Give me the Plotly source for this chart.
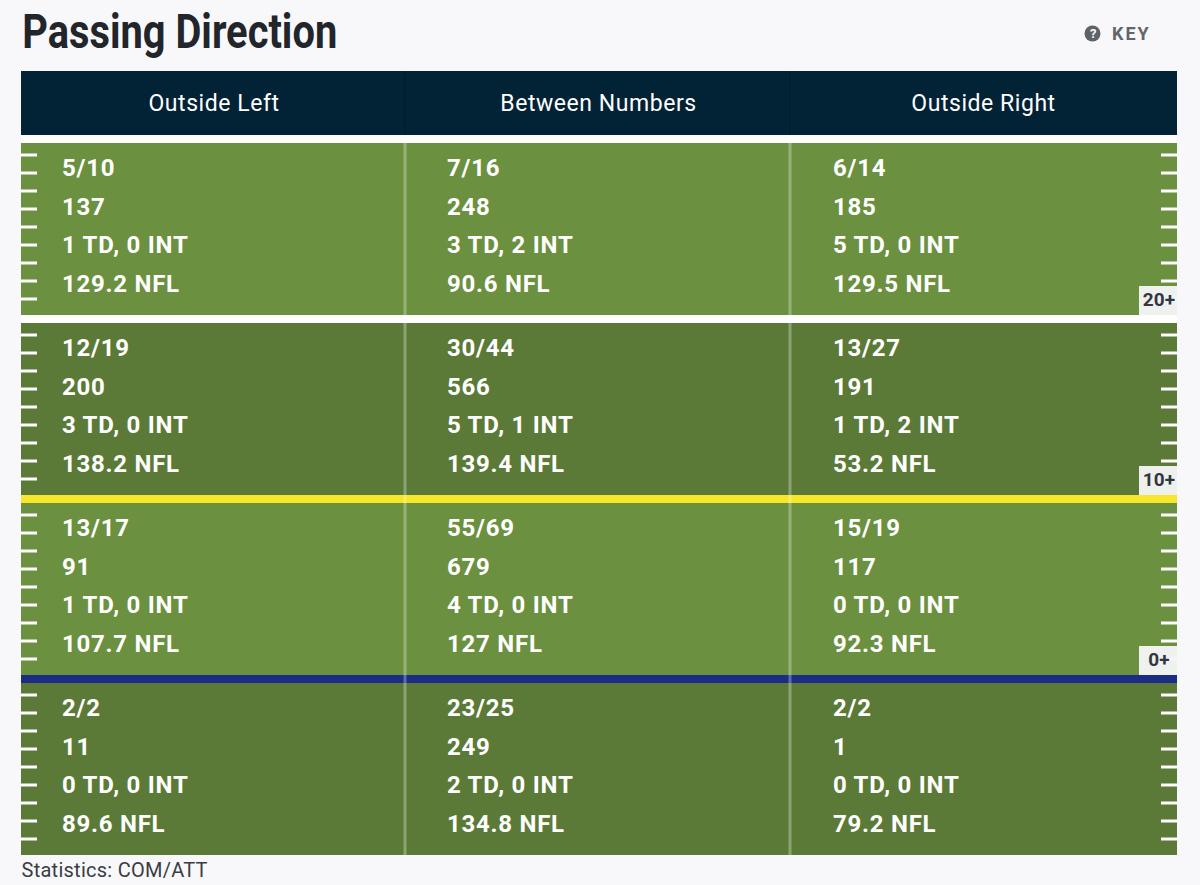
import plotly.graph_objects as go

# ── data ──
columns = ["Outside Left", "Between Numbers", "Outside Right"]
depths = ["20+", "10+", "0+"]

comp_att = [
    ["5/10", "7/16", "6/14"],
    ["12/19", "30/44", "13/27"],
    ["13/17", "55/69", "15/19"],
    ["2/2", "23/25", "2/2"],
]
yards = [
    [137, 248, 185],
    [200, 566, 191],
    [91, 679, 117],
    [11, 249, 1],
]
touchdowns = [
    [1, 3, 5],
    [3, 5, 1],
    [1, 4, 0],
    [0, 2, 0],
]
interceptions = [
    [0, 2, 0],
    [0, 1, 2],
    [0, 0, 0],
    [0, 0, 0],
]
ratings = [
    [129.2, 90.6, 129.5],
    [138.2, 139.4, 53.2],
    [107.7, 127, 92.3],
    [89.6, 134.8, 79.2],
]

# ── layout (page pixels) ──
W, H = 1200, 885
LEFT, RIGHT = 21, 1177
COL_EDGES = [21, 405, 790, 1177]
COL_TEXT_X = [62, 447, 833]
ROW_TOPS = [143, 323, 503, 683]
ROW_H = 172
LINE_OFFSETS = [27, 66, 104, 143]

BG = "#f8f8fb"
NAVY = "#022235"
LIGHT = "#6b9040"
DARK = "#5c7a37"
ROW_COLORS = [LIGHT, DARK, LIGHT, DARK]
BAND_COLORS = ["#ffffff", "#f7e62a", "#1b2c84"]

shapes = []


def rect(x0, y0, x1, y1, color):
    shapes.append(dict(type="rect", xref="x", yref="y", x0=x0, y0=y0, x1=x1, y1=y1,
                       fillcolor=color, line=dict(width=0), layer="below"))


# header
rect(LEFT, 71, RIGHT, 135, NAVY)
for cx in COL_EDGES[1:3]:
    rect(cx - 1, 71, cx + 1, 135, "#011d2e")

# field rows + coloured bands between them
for i, top in enumerate(ROW_TOPS):
    rect(LEFT, top, RIGHT, top + ROW_H, ROW_COLORS[i])
    if i < 3:
        rect(LEFT, top + ROW_H, RIGHT, top + ROW_H + 8, BAND_COLORS[i])
rect(LEFT, 135, RIGHT, 143, "#ffffff")

# column dividers
for cx in COL_EDGES[1:3]:
    rect(cx - 1.5, 143, cx + 1.5, 855, "rgba(255,255,255,0.3)")

# yard hash marks
for top in ROW_TOPS:
    for k in range(9):
        y = top + 12 + 18 * k
        rect(LEFT, y - 1.5, LEFT + 16, y + 1.5, "#ffffff")
        rect(RIGHT - 16, y - 1.5, RIGHT, y + 1.5, "#ffffff")

# depth badges
for i in range(3):
    bottom = ROW_TOPS[i] + ROW_H
    rect(1139, bottom - 29, RIGHT, bottom, "rgba(246,247,248,0.95)")

# key icon
shapes.append(dict(type="circle", xref="x", yref="y", x0=1084.5, y0=25.5, x1=1100.5, y1=41.5,
                   fillcolor="#5f6368", line=dict(width=0), layer="below"))

fig = go.Figure()

# cell text
cell_x, cell_y, cell_text = [], [], []
for r, top in enumerate(ROW_TOPS):
    for c, tx in enumerate(COL_TEXT_X):
        lines = [
            comp_att[r][c],
            str(yards[r][c]),
            f"{touchdowns[r][c]} TD, {interceptions[r][c]} INT",
            f"{ratings[r][c]:g} NFL",
        ]
        for off, line in zip(LINE_OFFSETS, lines):
            cell_x.append(tx)
            cell_y.append(top + off)
            cell_text.append(line)

fig.add_trace(go.Scatter(
    x=cell_x, y=cell_y, text=cell_text, mode="text", textposition="middle right",
    textfont=dict(family="Roboto", size=24, color="#ffffff", weight=700),
    hoverinfo="skip", showlegend=False,
))

# column headers
fig.add_trace(go.Scatter(
    x=[214, 598.5, 983.5], y=[105] * 3,
    text=columns, mode="text", textposition="middle center",
    textfont=dict(family="Roboto", size=23, color="#ffffff"),
    hoverinfo="skip", showlegend=False,
))

# depth labels
fig.add_trace(go.Scatter(
    x=[1159] * 3, y=[ROW_TOPS[i] + ROW_H - 14 for i in range(3)],
    text=depths, mode="text", textposition="middle center",
    textfont=dict(family="Roboto", size=19, color="#33363f", weight=700),
    hoverinfo="skip", showlegend=False,
))

annotations = [
    dict(x=179.5, y=31, text="Passing Direction", xanchor="center", yanchor="middle", showarrow=False,
         font=dict(family="Roboto", size=49, color="#22262b", weight=700)),
    dict(x=1131.5, y=33, text="KEY", xanchor="center", yanchor="middle", showarrow=False,
         font=dict(family="Roboto", size=18, color="#62656b", weight=700)),
    dict(x=1092.5, y=33.5, text="?", xanchor="center", yanchor="middle", showarrow=False,
         font=dict(family="Roboto", size=13, color="#f8f8fb", weight=700)),
    dict(x=114, y=870, text="Statistics: COM/ATT", xanchor="center", yanchor="middle", showarrow=False,
         font=dict(family="Roboto", size=20, color="#3a3d44")),
]
for a in annotations:
    a.update(xref="x", yref="y", borderpad=0, borderwidth=0)

fig.update_layout(
    width=W, height=H, autosize=False,
    margin=dict(l=0, r=0, t=0, b=0, pad=0),
    paper_bgcolor=BG, plot_bgcolor=BG,
    xaxis=dict(range=[0, W], visible=False, fixedrange=True),
    yaxis=dict(range=[H, 0], visible=False, fixedrange=True),
    shapes=shapes, annotations=annotations, showlegend=False,
)

# no letter-spacing or condensed face in plotly fonts, so nudge the svg text after drawing
post_js = """
document.body.style.margin = '0';
document.body.style.background = '%s';
var gd = document.querySelector('.plotly-graph-div');
var traces = gd.querySelectorAll('.scatterlayer .trace');
[0.75, 0.55, 0.1].forEach(function (sp, i) {
    traces[i].querySelectorAll('text').forEach(function (t) { t.style.letterSpacing = sp + 'px'; });
});
gd.querySelectorAll('.annotation-text').forEach(function (t) {
    if (t.textContent === 'Passing Direction') {
        t.setAttribute('textLength', '315');
        t.setAttribute('lengthAdjust', 'spacingAndGlyphs');
    }
    if (t.textContent === 'KEY') t.style.letterSpacing = '2px';
    if (t.textContent.indexOf('Statistics') === 0) t.style.letterSpacing = '0.26px';
});
""" % BG

fig.write_html("out.html", config=dict(displayModeBar=False), post_script=post_js)
